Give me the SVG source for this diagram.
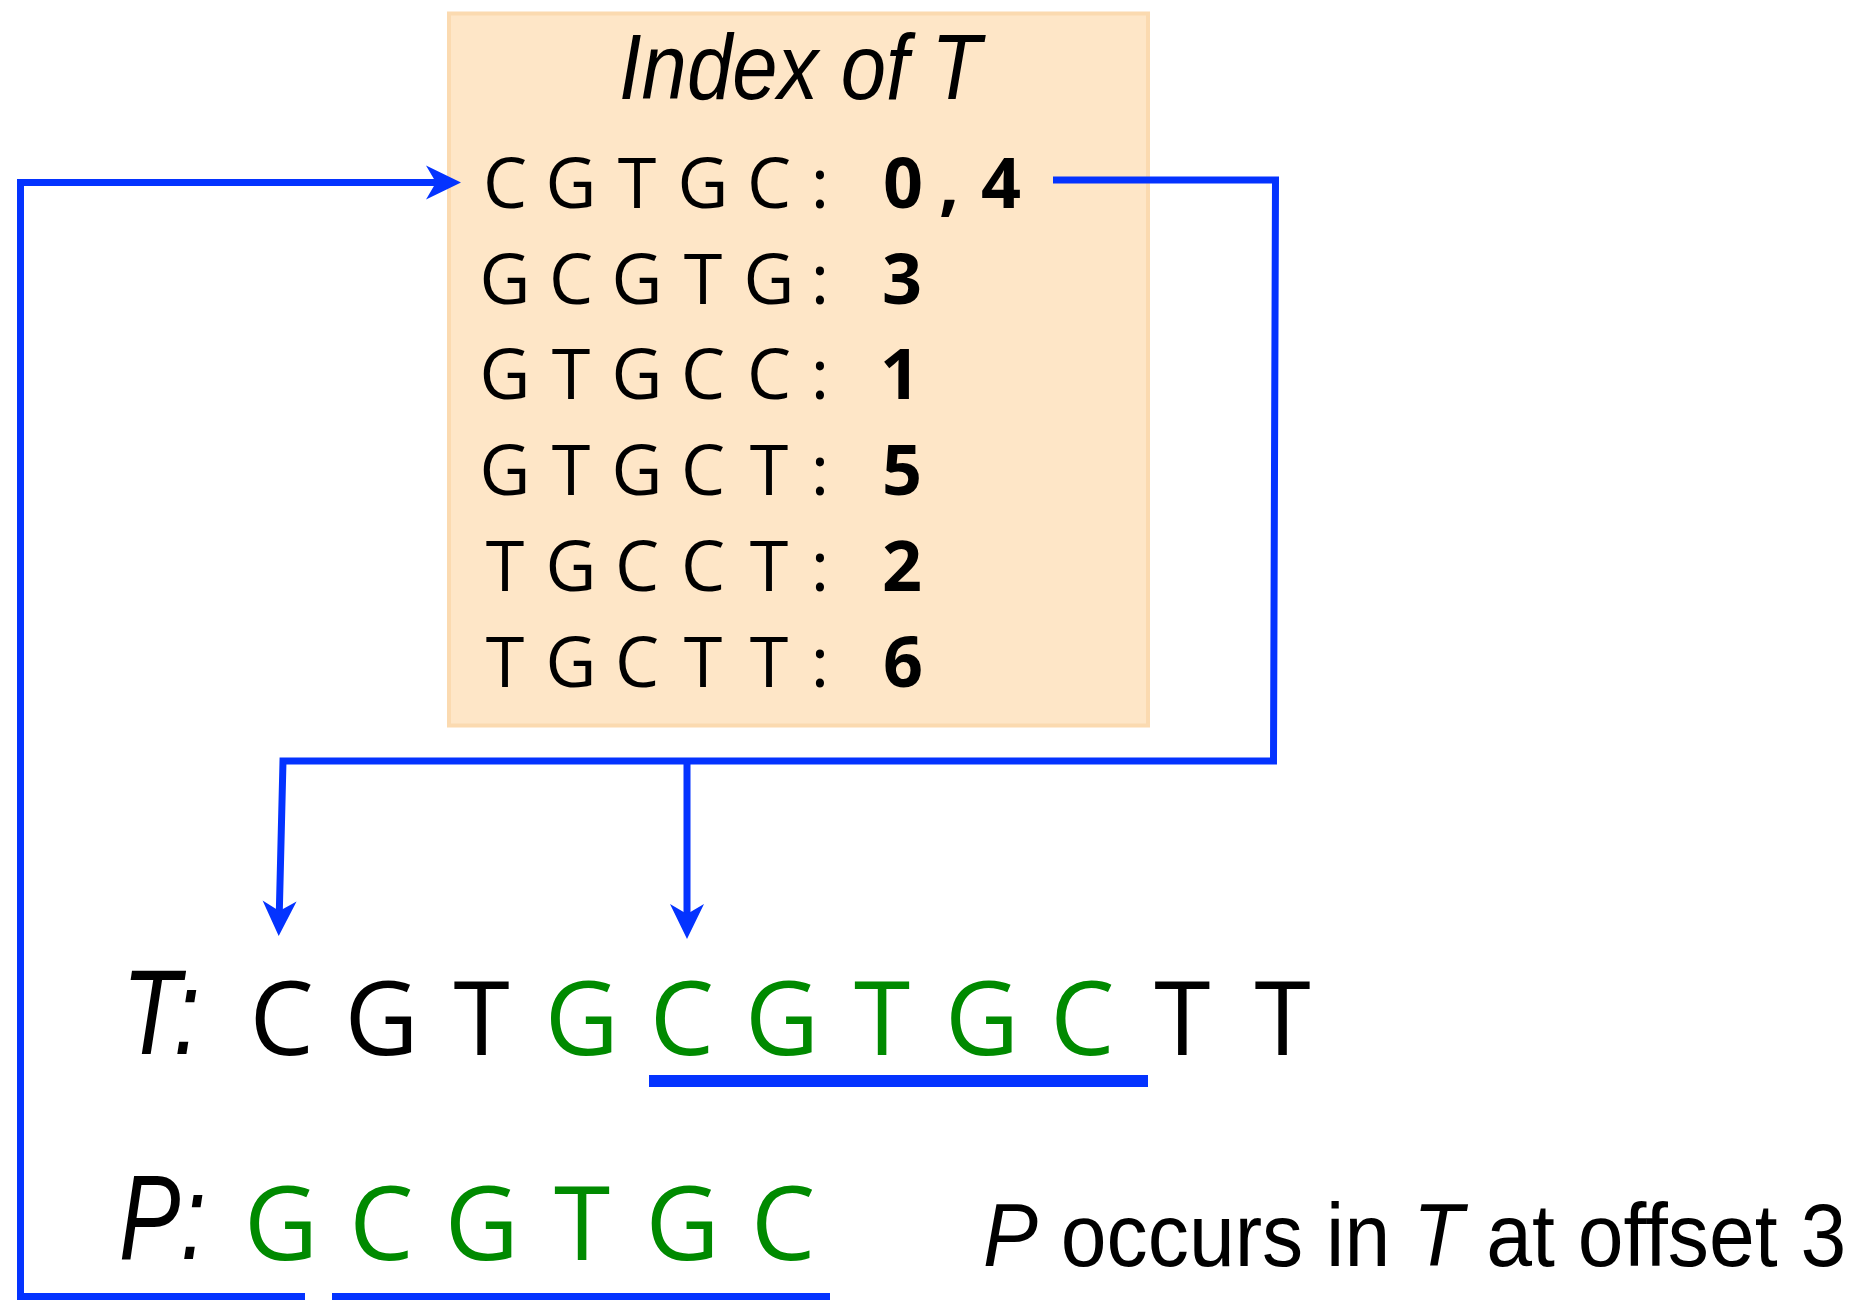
<svg xmlns="http://www.w3.org/2000/svg" width="1867" height="1300" viewBox="0 0 1867 1300">
<style>
.row{font-family:"Open Sans","Liberation Sans",sans-serif;font-size:70px;font-weight:500;fill:#000;text-anchor:middle}
.num{font-weight:bold}
.ital{font-family:"Liberation Sans",Arial,sans-serif;font-style:italic;fill:#000}
.seq{font-family:"Open Sans","Liberation Sans",sans-serif;font-size:102px;font-weight:500;text-anchor:middle}
.g{fill:#008A00}
.k{fill:#000}
.conn{fill:none;stroke:#0433FF;stroke-width:7;stroke-linejoin:miter;stroke-linecap:butt}
.ul{fill:#0433FF}
</style>
<defs>
<marker id="arr" markerUnits="userSpaceOnUse" viewBox="-12 -18 37 36" refX="0" refY="0" markerWidth="37" markerHeight="36" orient="auto" overflow="visible">
<path d="M24,0 L-11,-17 L-1,0 L-11,17 Z" fill="#0433FF"/>
</marker>
</defs>
<rect width="1867" height="1300" fill="#fff"/>

<g id="index-box">
<rect x="449" y="13.5" width="699" height="712" fill="#FEE6C7" stroke="#FBDAB0" stroke-width="4"/>
<text class="ital" x="619" y="98.5" font-size="92" textLength="362" lengthAdjust="spacingAndGlyphs">Index of T</text>
<text class="row" x="505 571 637 703 769 820" y="208">CGTGC:</text>
<text class="row num" x="903 949 1001" y="208">0,4</text>
<text class="row" x="505 571 637 703 769 820" y="303.5">GCGTG:</text>
<text class="row num" x="902" y="303.5">3</text>
<text class="row" x="505 571 637 703 769 820" y="399">GTGCC:</text>
<text class="row num" x="900" y="399">1</text>
<text class="row" x="505 571 637 703 769 820" y="495">GTGCT:</text>
<text class="row num" x="902" y="495">5</text>
<text class="row" x="505 571 637 703 769 820" y="591">TGCCT:</text>
<text class="row num" x="902" y="591">2</text>
<text class="row" x="505 571 637 703 769 820" y="687">TGCTT:</text>
<text class="row num" x="903" y="687">6</text>
</g>

<g id="text-T">
<text class="ital" x="122" y="1054" font-size="121" textLength="78" lengthAdjust="spacingAndGlyphs">T:</text>
<text class="seq" y="1055"><tspan class="k" x="281.5 381.6 481.7">CGT</tspan><tspan class="g" x="581.8 681.9 782 882.1 982.2 1082.3">GCGTGC</tspan><tspan class="k" x="1182.4 1282.5">TT</tspan></text>
<rect class="ul" x="649" y="1075" width="499" height="12"/>
</g>

<g id="pattern-P">
<text class="ital" x="119" y="1259" font-size="120" textLength="87" lengthAdjust="spacingAndGlyphs">P:</text>
<text class="seq g" x="281 381.4 481.8 582.2 682.6 783" y="1260">GCGTGC</text>
<rect class="ul" x="332" y="1293" width="498" height="12"/>
</g>

<g id="caption">
<text transform="translate(983,1266) scale(0.925,1)" x="0" y="0" font-family="Liberation Sans, Arial, sans-serif" font-size="89"><tspan font-style="italic">P</tspan> occurs in <tspan font-style="italic">T</tspan> at offset 3</text>
</g>

<g id="connectors">
<path class="conn" d="M305,1296.5 H20.5 V182.5 H437" marker-end="url(#arr)"/>
<path class="conn" d="M1053,180 H1275.5 L1273.5,761 H283 L279.3,912" marker-end="url(#arr)"/>
<path class="conn" d="M687,761 V915" marker-end="url(#arr)"/>
</g>
</svg>
